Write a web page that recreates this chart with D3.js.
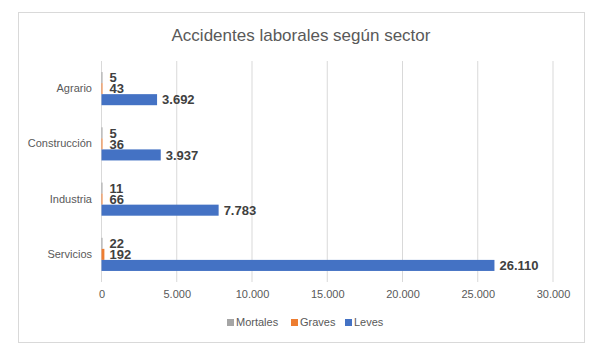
<!DOCTYPE html>
<html><head><meta charset="utf-8">
<script src="https://cdn.jsdelivr.net/npm/d3@7"></script>
<style>body{margin:0;background:#fff}svg{display:block}</style>
</head><body>
<svg id="c" width="602" height="354"></svg>
<script>
const categories = ["Agrario","Construcción","Industria","Servicios"];
const seriesNames = ["Mortales","Graves","Leves"];
const mortales = [5,5,11,22];
const graves = [43,36,66,192];
const leves = [3692,3937,7783,26110];
const xTicks = [0,5000,10000,15000,20000,25000,30000];
const colors = ["#A5A5A5","#ED7D31","#4472C4"];
const title = "Accidentes laborales según sector";

const values = [mortales, graves, leves];
const font = "'Liberation Sans', Arial, sans-serif";
const svg = d3.select("#c");
const fmt = v => d3.format(",")(v).replace(/,/g, ".");

svg.append("rect").attr("x",18.5).attr("y",12.5).attr("width",566).attr("height",330)
  .attr("fill","#fff").attr("stroke","#D9D9D9");

svg.append("text").attr("x",301).attr("y",41).attr("text-anchor","middle")
  .attr("font-family",font).attr("font-size",17).attr("fill","#595959").text(title);

const x = d3.scaleLinear().domain([0,30000]).range([101.5,553]);
const y = d3.scaleBand().domain(categories).range([61,282]);
const yInner = d3.scaleBand().domain(seriesNames).range([0,y.bandwidth()]).paddingOuter(1);

// gridlines
svg.append("g").selectAll("line").data(xTicks).join("line")
  .attr("x1",d=>x(d)).attr("x2",d=>x(d)).attr("y1",61).attr("y2",282)
  .attr("stroke","#D9D9D9").attr("stroke-width",1);

// x axis labels
const xAxis = d3.axisBottom(x).tickValues(xTicks).tickFormat(fmt).tickSize(0).tickPadding(0);
const gx = svg.append("g").attr("transform","translate(0,290)").call(xAxis);
gx.select(".domain").remove();
gx.selectAll("text").attr("font-family",font).attr("font-size",11).attr("fill","#595959");

// y axis labels
const yAxis = d3.axisLeft(y).tickSize(0).tickPadding(0);
const gy = svg.append("g").attr("transform","translate(92,0)").call(yAxis);
gy.select(".domain").remove();
gy.selectAll("text").attr("font-family",font).attr("font-size",11).attr("fill","#595959");

// bars
seriesNames.forEach((s,si)=>{
  const g = svg.append("g");
  g.selectAll("rect").data(categories).join("rect")
    .attr("x",x(0))
    .attr("y",c=>y(c)+yInner(s))
    .attr("width",(c,i)=>Math.max(1,x(values[si][i])-x(0)))
    .attr("height",yInner.bandwidth())
    .attr("fill",colors[si]);
  g.selectAll("text").data(categories).join("text")
    .attr("x",(c,i)=>Math.max(x(values[si][i]), x(0)+3)+5)
    .attr("y",c=>y(c)+yInner(s)+yInner.bandwidth()/2)
    .attr("dy","0.36em")
    .attr("font-family",font).attr("font-size",13).attr("font-weight","bold")
    .attr("fill","#404040")
    .text((c,i)=>fmt(values[si][i]));
});

// legend
const legendX = [227,291,345];
const lg = svg.append("g");
seriesNames.forEach((s,i)=>{
  lg.append("rect").attr("x",legendX[i]).attr("y",319).attr("width",7).attr("height",7).attr("fill",colors[i]);
  lg.append("text").attr("x",legendX[i]+9).attr("y",322.5).attr("dy","0.36em")
    .attr("font-family",font).attr("font-size",11).attr("fill","#595959").text(s);
});
</script>
</body></html>
